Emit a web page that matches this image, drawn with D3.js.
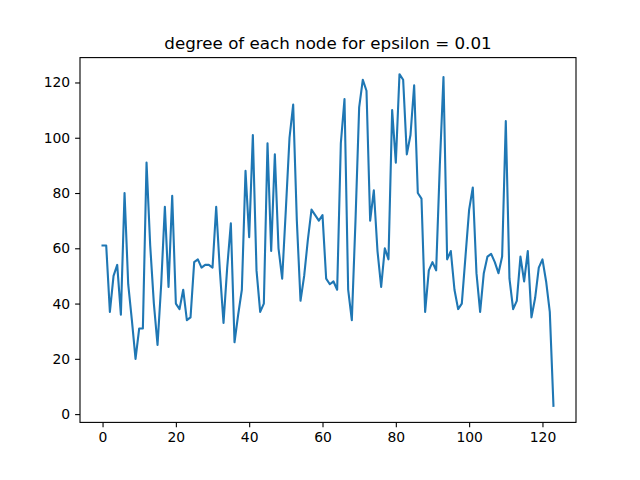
<!DOCTYPE html>
<html>
<head>
<meta charset="utf-8">
<script src="https://cdn.jsdelivr.net/npm/d3@7"></script>
<style>
  body { margin: 0; background: #fff; }
  text { font-family: "DejaVu Sans", sans-serif; }
</style>
</head>
<body>
<div id="chart"></div>
<script>
// degree of each node
var degrees = [61, 61, 37, 50, 54, 36, 80, 47, 34, 20, 31, 31, 91, 61, 40, 25, 47, 75, 46, 79,
    40, 38, 45, 34, 35, 55, 56, 53, 54, 54, 53, 75, 52, 33, 53, 69, 26, 36, 45, 88,
    64, 101, 52, 37, 40, 98, 59, 94, 60, 49, 74, 100, 112, 70, 41, 50, 63, 74, 72, 70,
    72, 49, 47, 48, 45, 98, 114, 45, 34, 70, 111, 121, 117, 70, 81, 59, 46, 60, 56, 110,
    91, 123, 121, 94, 101, 119, 80, 78, 37, 52, 55, 52, 90, 122, 56, 59, 45, 38, 40, 57,
    74, 82, 51, 37, 51, 57, 58, 55, 51, 57, 106, 49, 38, 41, 57, 48, 59, 35, 42, 53,
    56, 48, 37, 3];
var xTicks = [0, 20, 40, 60, 80, 100, 120];
var yTicks = [0, 20, 40, 60, 80, 100, 120];
var title = "degree of each node for epsilon = 0.01";

var width = 640, height = 480;
var margin = {left: 80, right: 64, top: 57.6, bottom: 57.6};

var svg = d3.select("#chart").append("svg")
    .attr("width", width)
    .attr("height", height);

var n = degrees.length - 1;
var xPad = n * 0.05;
var yMin = d3.min(degrees), yMax = d3.max(degrees);
var yPad = (yMax - yMin) * 0.05;

var x = d3.scaleLinear()
    .domain([-xPad, n + xPad])
    .range([margin.left, width - margin.right]);

var y = d3.scaleLinear()
    .domain([yMin - yPad, yMax + yPad])
    .range([height - margin.bottom, margin.top]);

var line = d3.line()
    .x(function(d, i) { return x(i); })
    .y(function(d) { return y(d); });

svg.append("path")
    .datum(degrees)
    .attr("d", line)
    .attr("fill", "none")
    .attr("stroke", "#1f77b4")
    .attr("stroke-width", 2.1)
    .attr("stroke-linejoin", "round")
    .attr("stroke-linecap", "square");

var xAxis = svg.append("g")
    .attr("transform", "translate(0," + (height - margin.bottom) + ")")
    .call(d3.axisBottom(x).tickValues(xTicks).tickSize(4.9).tickPadding(4.9));

var yAxis = svg.append("g")
    .attr("transform", "translate(" + margin.left + ",0)")
    .call(d3.axisLeft(y).tickValues(yTicks).tickSize(4.9).tickPadding(4.9));

[xAxis, yAxis].forEach(function(a) {
    a.select(".domain").remove();
    a.selectAll("line").attr("stroke", "#000").attr("stroke-width", 1.1);
    a.selectAll("text").attr("font-size", "13.9px").attr("fill", "#000")
        .style("font-family", "DejaVu Sans");
});

svg.append("rect")
    .attr("x", margin.left)
    .attr("y", margin.top)
    .attr("width", width - margin.left - margin.right)
    .attr("height", height - margin.top - margin.bottom)
    .attr("fill", "none")
    .attr("stroke", "#000")
    .attr("stroke-width", 1.1);

svg.append("text")
    .attr("x", (margin.left + width - margin.right) / 2)
    .attr("y", margin.top - 9)
    .attr("text-anchor", "middle")
    .attr("font-size", "16.7px")
    .text(title);
</script>
</body>
</html>
